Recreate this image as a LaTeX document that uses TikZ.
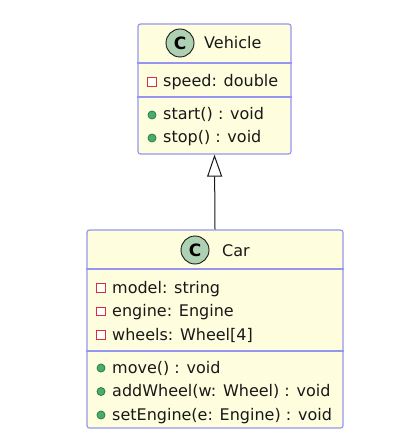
\documentclass[tikz,border=0pt]{standalone}
\usepackage{fontspec}
\setmainfont{DejaVu Sans}
\usetikzlibrary{arrows.meta}

\definecolor{classfill}{RGB}{254,254,222}
\definecolor{classline}{RGB}{150,150,240}
\definecolor{spotfill}{RGB}{173,209,178}
\definecolor{privred}{RGB}{214,48,58}
\definecolor{pubfill}{RGB}{80,170,112}
\definecolor{publine}{RGB}{30,128,72}
\definecolor{inkgray}{RGB}{24,24,24}

\tikzset{
  classbox/.style={draw=classline, fill=classfill, rounded corners=2.5pt,
    line width=1.2pt, inner sep=0pt},
  divider/.style={draw=classline, line width=1.2pt},
  spot/.style={circle, draw=inkgray, fill=spotfill, line width=0.9pt,
    minimum size=28pt, inner sep=0pt, font=\bfseries\fontsize{17}{17}\selectfont},
  title/.style={anchor=base west, inner sep=0pt, text=inkgray},
  member/.style={anchor=base west, inner sep=0pt, text=inkgray},
  privmark/.style={draw=privred, fill=white, line width=1.1pt},
  pubmark/.style={draw=publine, fill=pubfill, line width=0.8pt},
  extends/.style={draw=inkgray, line width=1pt,
    -{Triangle[open, length=22pt, width=15pt]}}
}

\begin{document}
\begin{tikzpicture}[x=1pt, y=-1pt, font=\fontsize{16}{19}\selectfont]
    \useasboundingbox (0,0) rectangle (402,446);
    \fill[white] (0,0) rectangle (402,446);

    % Vehicle
    \node[classbox, minimum width=153pt, minimum height=130pt] (vehicle) at (214.5,89) {};
    \draw[divider] (vehicle.west |- 0,63) -- (vehicle.east |- 0,63);
    \draw[divider] (vehicle.west |- 0,97) -- (vehicle.east |- 0,97);
    \node[spot] (vehiclespot) at (180,43) {C};
    \node[title] (vehiclename) at (204,49) {Vehicle};
    \draw[privmark] (147.8,77.8) rectangle (156.2,86.2);
    \node[member] (vehicleattr1) at (163,87) {speed: double};
    \foreach[count=\i] \txt in {start() : void, stop() : void}{
        \draw[pubmark] (152,{115+23*(\i-1)}) circle[radius=4];
        \node[member] (vehicleop\i) at (163,{120+23*(\i-1)}) {\txt};
    }

    % Car
    \node[classbox, minimum width=256pt, minimum height=198pt] (car) at (215,329) {};
    \draw[divider] (car.west |- 0,269) -- (car.east |- 0,269);
    \draw[divider] (car.west |- 0,351) -- (car.east |- 0,351);
    \node[spot] (carspot) at (195,250) {C};
    \node[title] (carname) at (222,256) {Car};
    \foreach[count=\i] \txt in {model: string, engine: Engine, wheels: Wheel[4]}{
        \draw[privmark] (96.8,{283.8+23.5*(\i-1)}) rectangle ++(8.4,8.4);
        \node[member] (carattr\i) at (112,{293+23.5*(\i-1)}) {\txt};
    }
    \foreach[count=\i] \txt in {move() : void, addWheel(w: Wheel) : void, setEngine(e: Engine) : void}{
        \draw[pubmark] (101,{368+23.5*(\i-1)}) circle[radius=4];
        \node[member] (carop\i) at (112,{373+23.5*(\i-1)}) {\txt};
    }

    \draw[extends] (car.north) -- (vehicle.south);
\end{tikzpicture}
\end{document}
